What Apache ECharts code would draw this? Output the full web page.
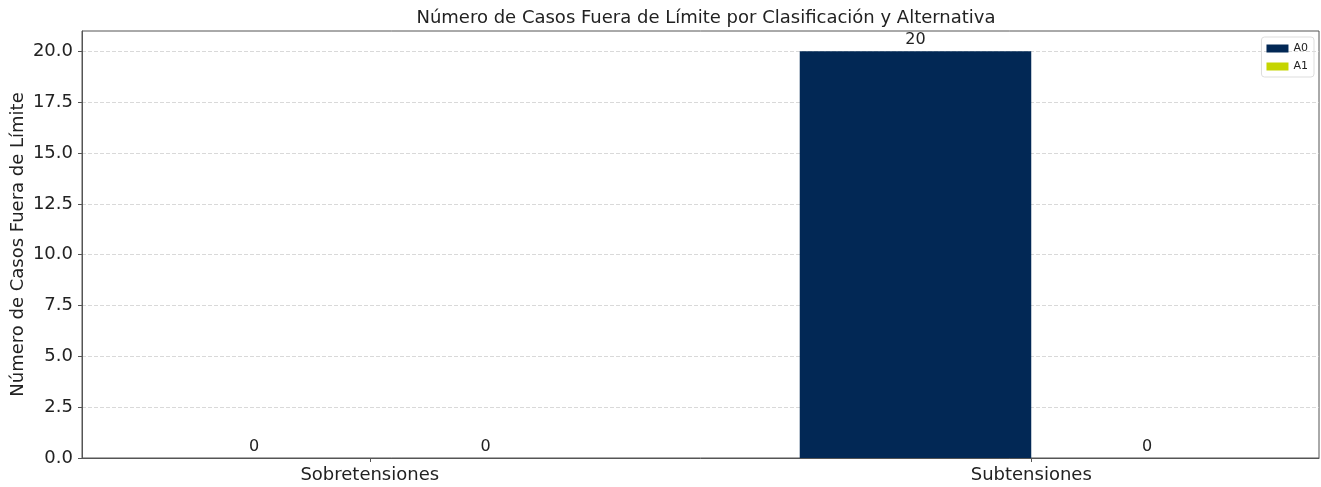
<!DOCTYPE html>
<html>
<head>
<meta charset="utf-8">
<script src="https://cdn.jsdelivr.net/npm/echarts@6/dist/echarts.min.js"></script>
<style>html,body{margin:0;padding:0;background:#fff}#c{width:1321px;height:487px}</style>
</head>
<body>
<div id="c"></div>
<script>
const categories = ["Sobretensiones", "Subtensiones"];
const seriesNames = ["A0", "A1"];
const valuesA0 = [0, 20];
const valuesA1 = [0, 0];
const yTicks = [0, 2.5, 5, 7.5, 10, 12.5, 15, 17.5, 20];
const colors = ["#022855", "#c5d500"];

const barOffset = 0.175;   // half of bar width in category units
const barWidthUnits = 0.35;
const xMin = -0.435, xMax = 1.435;

const chart = echarts.init(document.getElementById('c'), null, {renderer: 'canvas'});
const gridLeft = 82, gridRight = 2;
const plotW = 1321 - gridLeft - gridRight;
const barPx = plotW * barWidthUnits / (xMax - xMin);

const font = "DejaVu Sans";
function mk(name, vals, off, color) {
  return {
    name: name,
    type: 'bar',
    barWidth: barPx,
    barGap: '-100%',
    itemStyle: {color: color},
    data: vals.map((v, i) => [i + off, v]),
    label: {
      show: true, position: 'top', color: '#222', fontFamily: font, fontSize: 16, distance: 3,
      formatter: p => String(p.value[1])
    }
  };
}

chart.setOption({
  animation: false,
  title: {
    text: "Número de Casos Fuera de Límite por Clasificación y Alternativa",
    left: 701, top: 4, textAlign: 'center',
    textStyle: {fontFamily: font, fontSize: 18, fontWeight: 'normal', color: '#222'}
  },
  legend: {
    data: seriesNames,
    orient: 'vertical',
    right: 7, top: 37,
    itemWidth: 22, itemHeight: 8, itemGap: 7,
    padding: [6, 6, 5, 5],
    borderColor: '#ddd', borderWidth: 1, borderRadius: 3,
    textStyle: {fontFamily: font, fontSize: 11, color: '#222'},
    icon: 'rect'
  },
  grid: {
    left: gridLeft, right: gridRight, top: 31, bottom: 29,
    show: true, borderColor: '#555', borderWidth: 1, containLabel: false,
    outerBoundsMode: 'none'
  },
  xAxis: {
    type: 'value', min: xMin, max: xMax,
    splitLine: {show: false},
    axisLine: {show: true, onZero: false, lineStyle: {color: '#555'}},
    axisTick: {show: true, customValues: categories.map((c, i) => i), length: 4, lineStyle: {color: '#555'}},
    axisLabel: {
      customValues: categories.map((c, i) => i),
      formatter: v => categories[Math.round(v)] || '',
      fontFamily: font, fontSize: 18, color: '#222', margin: 8
    }
  },
  yAxis: {
    type: 'value', min: 0, max: 21, interval: 2.5,
    name: "Número de Casos Fuera de Límite",
    nameLocation: 'middle', nameGap: 55, nameRotate: 90, nameMoveOverlap: false,
    nameTextStyle: {fontFamily: font, fontSize: 18, color: '#222'},
    axisLine: {show: true, onZero: false, lineStyle: {color: '#555'}},
    axisTick: {show: true, length: 4, customValues: yTicks, lineStyle: {color: '#555'}},
    axisLabel: {
      fontFamily: font, fontSize: 18, color: '#222', margin: 9,
      customValues: yTicks,
      formatter: v => v.toFixed(1)
    },
    splitLine: {show: true, lineStyle: {color: '#cfcfcf', type: [4, 2], width: 0.8}}
  },
  series: [
    mk(seriesNames[0], valuesA0, -barOffset, colors[0]),
    mk(seriesNames[1], valuesA1, barOffset, colors[1])
  ]
});
</script>
</body>
</html>
